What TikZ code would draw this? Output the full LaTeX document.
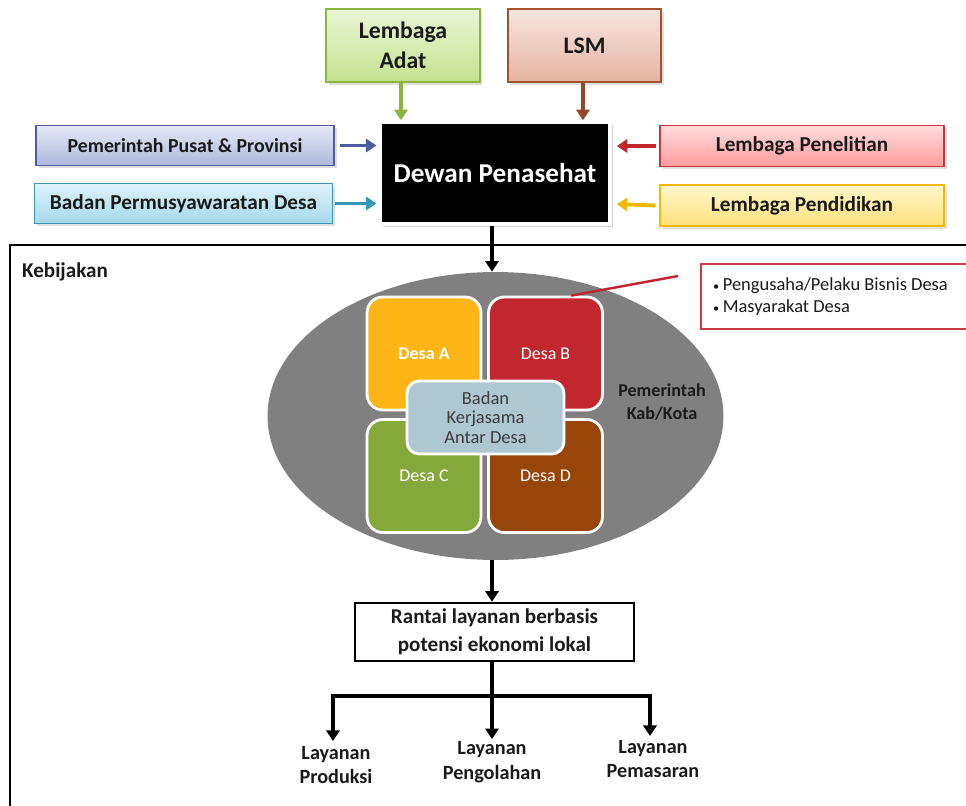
\documentclass[tikz,border=0pt]{standalone}
\usepackage{fontspec}
\setmainfont{Carlito}
\usetikzlibrary{arrows.meta,positioning,calc,shapes.geometric,shadows}

\definecolor{adatfill}{HTML}{C5E18F}
\definecolor{adattop}{HTML}{EAF5D5}
\definecolor{adatline}{HTML}{8DB53E}
\definecolor{lsmfill}{HTML}{E6B4A3}
\definecolor{lsmtop}{HTML}{F7E5DF}
\definecolor{lsmline}{HTML}{A4502A}
\definecolor{pusatfill}{HTML}{AEB8DE}
\definecolor{pusattop}{HTML}{E5E8F5}
\definecolor{pusatline}{HTML}{4C5C9E}
\definecolor{bpdfill}{HTML}{A4D9ED}
\definecolor{bpdtop}{HTML}{DFF2FA}
\definecolor{bpdline}{HTML}{3A96B6}
\definecolor{telitifill}{HTML}{FF9C9C}
\definecolor{telititop}{HTML}{FFDCDC}
\definecolor{telitiline}{HTML}{C8363B}
\definecolor{didikfill}{HTML}{FFE07A}
\definecolor{didiktop}{HTML}{FFF7CC}
\definecolor{didikline}{HTML}{F5B800}
\definecolor{desaA}{HTML}{FDB515}
\definecolor{desaB}{HTML}{C1272D}
\definecolor{desaC}{HTML}{84A93A}
\definecolor{desaD}{HTML}{974508}
\definecolor{bkad}{HTML}{AEC7D1}
\definecolor{pemda}{HTML}{808080}
\definecolor{teks}{HTML}{1A1A1A}

\begin{document}
\begin{tikzpicture}[x=0.02cm,y=-0.02cm,>={Triangle[length=6pt,width=7.5pt]},
  sumber/.style={draw,line width=1pt,inner sep=2pt,text=teks,align=center,font=\bfseries\fontsize{11}{13}\selectfont,drop shadow={opacity=0.25,shadow xshift=1.5pt,shadow yshift=-1.5pt}},
  atas/.style={sumber,minimum width=3.07cm,minimum height=1.46cm,font=\bfseries\fontsize{13.5}{17}\selectfont},
  samping/.style={sumber,minimum width=5.96cm,minimum height=0.8cm},
  kanan/.style={sumber,minimum width=5.68cm,minimum height=0.82cm,font=\bfseries\fontsize{12.1}{14}\selectfont},
  desa/.style={draw=white,line width=1.6pt,rounded corners=9pt,minimum width=2.28cm,minimum height=2.26cm,text=white,font=\fontsize{10.2}{12}\selectfont},
  warna/.style={->,line width=2.2pt,shorten >=1pt},
  panah/.style={->,line width=1.8pt},
  layanan/.style={align=center,inner sep=1pt,text=teks,font=\bfseries\fontsize{11.5}{14.2}\selectfont}]
  \useasboundingbox (0,0) rectangle (966,805);
  \node[atas,draw=adatline,top color=adattop,bottom color=adatfill] (adat) at (403,45.5) {Lembaga\\Adat};
  \node[atas,draw=lsmline,top color=lsmtop,bottom color=lsmfill] (lsm) at (584.5,45.5) {LSM};
  \node[draw=white,line width=2pt,fill=black,minimum width=4.6cm,minimum height=2.04cm,text=white,font=\bfseries\fontsize{15.5}{18}\selectfont,drop shadow={opacity=0.35,shadow xshift=1.5pt,shadow yshift=-1.5pt}] (dewan) at (495,173) {Dewan Penasehat};
  \node[samping,draw=pusatline,top color=pusattop,bottom color=pusatfill,font=\bfseries\fontsize{11.3}{13}\selectfont] (pusat) at (185,145.5) {Pemerintah Pusat \& Provinsi};
  \node[samping,draw=bpdline,top color=bpdtop,bottom color=bpdfill,font=\bfseries\fontsize{12.1}{14}\selectfont] (bpd) at (183.5,203.5) {Badan Permusyawaratan Desa};
  \node[kanan,draw=telitiline,top color=telititop,bottom color=telitifill] (teliti) at (802,146) {Lembaga Penelitian};
  \node[kanan,draw=didikline,top color=didiktop,bottom color=didikfill] (didik) at (802,205.5) {Lembaga Pendidikan};
  \draw[warna,adatline] (401,82) -- (401,122);
  \draw[warna,lsmline!90!black] (583,82) -- (583,122);
  \draw[warna,pusatline] (pusat.east) ++(3pt,0) -- (pusat.east -| dewan.west);
  \draw[warna,bpdline] (bpd.east) ++(1pt,0) -- (bpd.east -| dewan.west);
  \draw[warna,desaB] (teliti.west) ++(-2pt,0) -- (615,146);
  \draw[warna,didikline] (didik.west) ++(-2pt,0) -- (615,204);
  \draw[line width=1.5pt] (980,245) -- (10,245) -- (10,815);
  \node[anchor=west,text=teks,font=\bfseries\fontsize{12}{14}\selectfont] (kebijakan) at (16,272) {Kebijakan};
  \node[ellipse,fill=pemda,minimum width=9.12cm,minimum height=5.76cm,inner sep=0pt] (kabkota) at (495.5,416) {};
  \node[desa,fill=desaA,font=\bfseries\fontsize{10.2}{12}\selectfont] (desa a) at (424,353.5) {Desa A};
  \node[desa,fill=desaB] (desa b) at (545.5,353.5) {Desa B};
  \node[desa,fill=desaC] (desa c) at (424,476) {Desa C};
  \node[desa,fill=desaD] (desa d) at (545.5,476) {Desa D};
  \node[draw=white,line width=1.6pt,fill=bkad,rounded corners=7pt,minimum width=3.14cm,minimum height=1.46cm,align=center,text=teks!85,font=\fontsize{10.5}{11.2}\selectfont] (bkad) at (485.5,417.5) {Badan\\Kerjasama\\Antar Desa};
  \node[align=center,text=teks,font=\bfseries\fontsize{10.3}{13}\selectfont] (pemkab) at (662,402) {Pemerintah\\Kab/Kota};
  \node[draw=desaB!90!white,line width=1.4pt,fill=white,anchor=north west,minimum height=1.3cm,text width=5.1cm,inner xsep=0.24cm,align=flush left,text=teks,font=\fontsize{10.5}{12.5}\selectfont] (pelaku) at (700,263) {{\scriptsize\textbullet}\hspace{2pt}Pengusaha/Pelaku Bisnis Desa\\{\scriptsize\textbullet}\hspace{2pt}Masyarakat Desa};
  \coordinate (ujung) at (678,276);
  \draw[line width=1.4pt,desaB] (ujung) -- ($(desa b.north west)!0.72!(desa b.north east)$);
  \draw[panah] (dewan.south -| 492,0) -- (kabkota.north -| 492,0);
  \node[draw,line width=1.5pt,minimum width=5.58cm,minimum height=1.16cm,align=center,text=teks,font=\bfseries\fontsize{12}{15.9}\selectfont] (rantai) at (494.5,632) {Rantai layanan berbasis\\potensi ekonomi lokal};
  \draw[panah] (kabkota.south -| 492,0) -- (rantai.north -| 492,0);
  \node[layanan] (produksi) at (336,765) {Layanan\\Produksi};
  \node[layanan] (pengolahan) at (492,762) {Layanan\\Pengolahan};
  \node[layanan] (pemasaran) at (653,759) {Layanan\\Pemasaran};
  \coordinate (cabang) at (492,696);
  \draw[panah] (rantai.south -| cabang) -- (pengolahan.north -| cabang);
  \draw[panah] (cabang) -| (333,741);
  \draw[panah] (cabang) -| (650,736);
\end{tikzpicture}
\end{document}
